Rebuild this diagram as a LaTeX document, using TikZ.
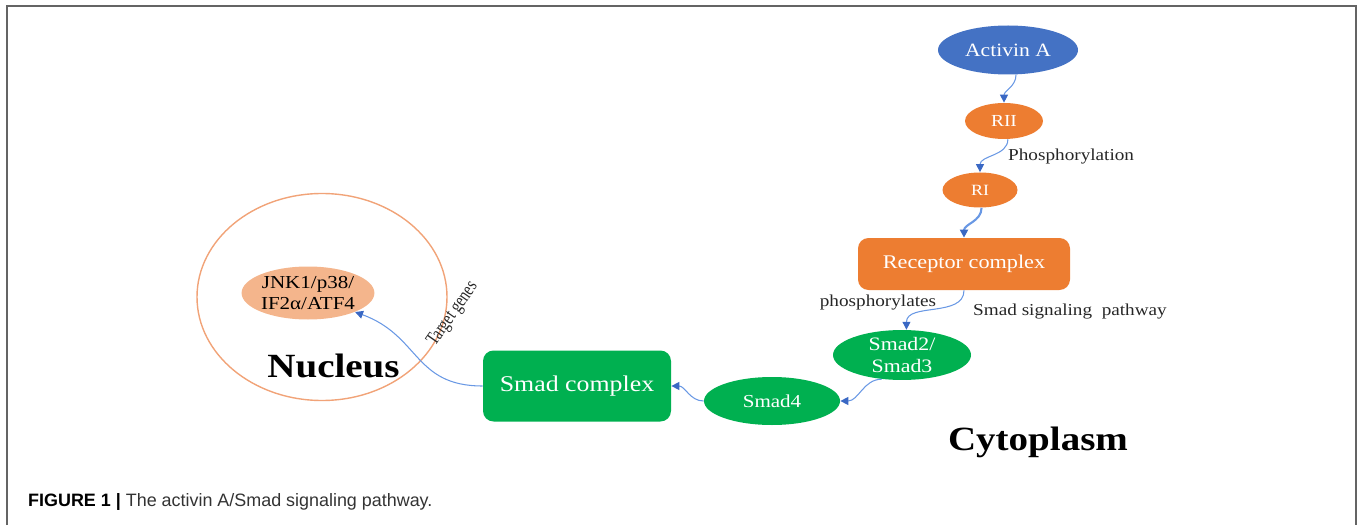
\documentclass[tikz,border=0pt]{standalone}
\usepackage{fontspec}
\setmainfont{Liberation Serif}[FakeStretch=1.15]
\newfontfamily\capfont{Liberation Sans}
\usetikzlibrary{positioning, shapes.geometric, arrows.meta}

\definecolor{activinblue}{RGB}{68,114,196}
\definecolor{recorange}{RGB}{237,125,49}
\definecolor{smadgreen}{RGB}{0,176,80}
\definecolor{peach}{RGB}{244,181,140}
\definecolor{nucline}{RGB}{241,163,120}
\definecolor{linkblue}{RGB}{105,152,228}
\definecolor{tipblue}{RGB}{58,104,196}
\definecolor{framegray}{RGB}{100,100,100}

\tikzset{
	oval/.style={ellipse, inner sep=0pt, text=white},
	box/.style={rectangle, rounded corners=6pt, inner sep=0pt, text=white},
	sig/.style={draw=linkblue, line width=0.6pt, -{Triangle[length=4.5pt, width=4.5pt, color=tipblue]}},
	lbl/.style={font=\fontsize{9.5}{11}\selectfont, text=black!85},
	big/.style={font=\fontsize{19.3}{22}\selectfont\bfseries, text=black},
}

\begin{document}
\begin{tikzpicture}
	\useasboundingbox (0, 0) rectangle (27.16, 10.5);
	\draw[framegray, line width=1.1pt] (0.14, 0) |- (27.12, 10.38) -- (27.12, 0);

	\node[oval, fill=activinblue, minimum width=2.8cm, minimum height=0.98cm, font=\fontsize{10.7}{12}\selectfont] (activin) at (20.16, 9.5) {Activin A};
	\node[oval, fill=recorange, minimum width=1.56cm, minimum height=0.72cm, font=\fontsize{9.6}{11}\selectfont] (rii) at (20.08, 8.08) {RII};
	\node[oval, fill=recorange, minimum width=1.5cm, minimum height=0.7cm, font=\fontsize{8.9}{10}\selectfont] (ri) at (19.6, 6.7) {RI};
	\node[box, fill=recorange, minimum width=4.24cm, minimum height=1.04cm, font=\fontsize{11}{13}\selectfont] (receptor) at (19.28, 5.22) {Receptor complex};
	\node[oval, fill=smadgreen, minimum width=2.76cm, minimum height=0.98cm, align=center, font=\fontsize{10.8}{12.5}\selectfont] (smad23) at (18.04, 3.4) {Smad2/\\Smad3};
	\node[oval, fill=smadgreen, minimum width=2.72cm, minimum height=0.96cm, font=\fontsize{10.4}{12}\selectfont] (smad4) at (15.44, 2.48) {Smad4};
	\node[box, fill=smadgreen, minimum width=3.76cm, minimum height=1.42cm, font=\fontsize{12.8}{14}\selectfont] (complex) at (11.54, 2.78) {Smad complex};

	\node[ellipse, draw=nucline, line width=0.8pt, minimum width=5cm, minimum height=4.14cm] (nucleus) at (6.44, 4.56) {};
	\node[oval, fill=peach, text=black, minimum width=2.6cm, minimum height=1.06cm, align=center, font=\fontsize{10.4}{11.5}\selectfont] (jnk) at (6.16, 4.64) {JNK1/p38/\\IF2α/ATF4};

	\node[big, anchor=base] (nuctext) at (6.67, 2.96) {Nucleus};
	\node[big, anchor=base] (cyto) at (20.76, 1.5) {Cytoplasm};

	\draw[sig] (activin.-72) to[out=-90, in=90] (rii.north);
	\draw[sig] (rii.-78) to[out=-90, in=90] (ri.north);
	\draw[sig, line width=1.2pt] (ri.-85) to[out=-90, in=90] (receptor.north);
	\draw[sig] (receptor.south) to[out=-90, in=90] (smad23.80);
	\draw[sig] (smad23.-130) to[out=180, in=0] (smad4.east);
	\draw[sig] (smad4.west) to[out=180, in=0] (complex.east);
	\draw[sig] (complex.west) to[out=180, in=-20, looseness=1.2] (jnk.-22);

	\node[lbl, anchor=west] (phos) at (20.04, 7.36) {Phosphorylation};
	\node[lbl] (phosr) at (17.56, 4.44) {phosphorylates};
	\node[lbl] (pathway) at (21.4, 4.26) {Smad signaling\ \ pathway};
	\node[font=\fontsize{11}{12}\selectfont, text=black!85, rotate=55, inner sep=1pt] (target) at (9.06, 4.22) {\scalebox{0.66}[1]{Target genes}};

	\node[anchor=base west, font=\capfont\fontsize{10.2}{12}\selectfont, text=black!80] (caption) at (0.44, 0.38) {\textbf{\color{black}FIGURE 1 |} The activin A/Smad signaling pathway.};
\end{tikzpicture}
\end{document}
